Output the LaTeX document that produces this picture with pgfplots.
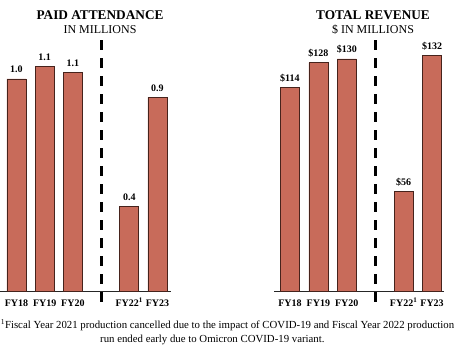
\documentclass[border=0pt]{standalone}
\usepackage{pgfplots}
\pgfplotsset{compat=1.18}
\usepackage{fontspec}
\setmainfont{Liberation Serif}
\definecolor{barfill}{RGB}{200,107,90}
\definecolor{baredge}{RGB}{70,35,28}
\pgfplotsset{
  mybars/.style={
    scale only axis,
    height=250pt,
    ymin=0,
    clip=false,
    axis y line=none,
    axis x line=bottom,
    axis line style={-, line width=0.8pt, black!85},
    xtick={0,1,2,4,5},
    xticklabels={FY18,FY19,FY20,FY22\textsuperscript{1},FY23},
    major tick length=0pt,
    /pgf/number format/assume math mode=true,
    xticklabel style={font=\fontsize{10}{12}\selectfont\bfseries, anchor=base, yshift=-15.5pt, inner sep=0pt},
  },
  mylabels/.style={nodes near coords style={font=\fontsize{10}{12}\selectfont\bfseries, anchor=base, inner sep=0pt, yshift=6pt}},
}
\begin{document}
\begin{tikzpicture}[x=1pt,y=1pt]
\path[use as bounding box] (0,0) rectangle (455,346);
% Left chart
\begin{axis}[mybars, at={(0pt,55pt)}, anchor=south west, width=171pt,
  xmin=-0.585, xmax=5.48, ymax=1.2136]
\addplot[ybar, bar width=19pt, fill=barfill, draw=baredge, line width=0.6pt,
  mylabels,
  nodes near coords={\pgfmathprintnumber[fixed,fixed zerofill,precision=1,assume math mode=true]{\pgfplotspointmeta}}]
  coordinates {(0,1.03) (1,1.09) (2,1.06) (4,0.41) (5,0.94)};
\addplot[black, line width=3pt, dash pattern=on 10pt off 8pt, forget plot]
  coordinates {(3,1.218) (3,-0.083)};
\end{axis}
% Right chart
\begin{axis}[mybars, at={(274pt,55pt)}, anchor=south west, width=170pt,
  xmin=-0.56, xmax=5.42, ymax=140.05]
\addplot[ybar, bar width=19pt, fill=barfill, draw=baredge, line width=0.6pt,
  mylabels,
  nodes near coords={\$\pgfmathprintnumber[fixed,precision=0,assume math mode=true]{\pgfplotspointmeta}}]
  coordinates {(0,114) (1,128) (2,130) (4,56) (5,132)};
\addplot[black, line width=3pt, dash pattern=on 10pt off 8pt, forget plot]
  coordinates {(3,140.6) (3,-9.5)};
\end{axis}
% Titles
\node[font=\fontsize{13.3}{15}\selectfont\bfseries] at (100,331) {PAID ATTENDANCE};
\node[font=\fontsize{12}{14}\selectfont] at (100,316) {IN MILLIONS};
\node[font=\fontsize{13.3}{15}\selectfont\bfseries] at (373,331) {TOTAL REVENUE};
\node[font=\fontsize{12}{14}\selectfont] at (373,316.5) {\$ IN MILLIONS};
% Footnote
\node[font=\fontsize{10.8}{12}\selectfont, anchor=base, inner sep=0pt] at (227.5,18) {\textsuperscript{1}Fiscal Year 2021 production cancelled due to the impact of COVID-19 and Fiscal Year 2022 production};
\node[font=\fontsize{10.8}{12}\selectfont, anchor=base west, inner sep=0pt] at (100,4) {run ended early due to Omicron COVID-19 variant.};
\end{tikzpicture}
\end{document}
